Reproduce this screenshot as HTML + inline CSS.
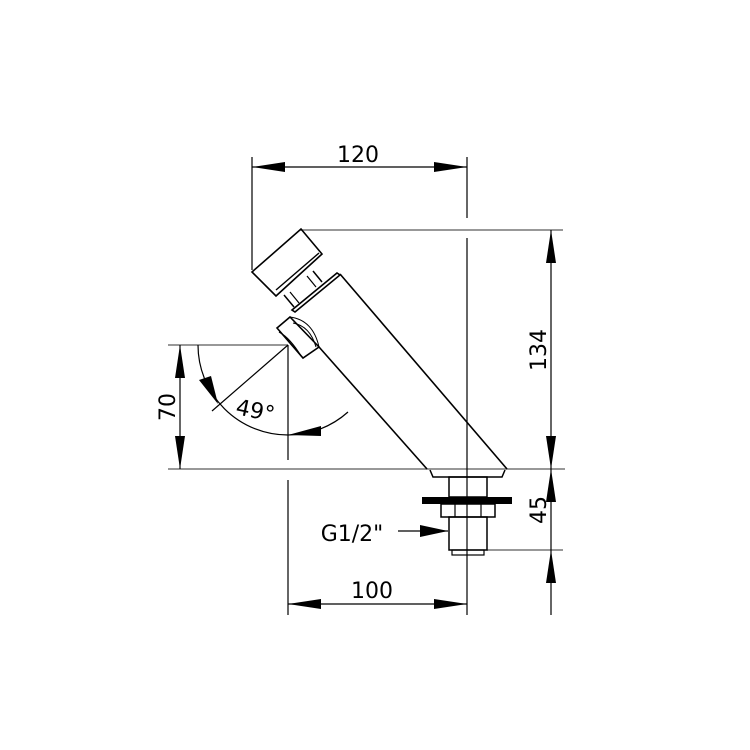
<!DOCTYPE html>
<html><head><meta charset="utf-8"><style>
html,body{margin:0;padding:0;background:#fff;}
svg{display:block;}
text{font-family:"DejaVu Sans","Liberation Sans",sans-serif;font-size:22px;fill:#000;}
</style></head><body>
<svg width="750" height="750" viewBox="0 0 750 750" xmlns="http://www.w3.org/2000/svg">
<g fill="none" stroke="#000" stroke-width="1.2">
<line x1="300" y1="230" x2="563" y2="230" stroke="#777" stroke-width="1.5"/>
<line x1="168" y1="345" x2="288" y2="345" stroke="#777" stroke-width="1.5"/>
<line x1="168" y1="469" x2="565" y2="469" stroke="#777" stroke-width="1.5"/>
<line x1="487" y1="550" x2="563" y2="550" stroke="#777" stroke-width="1.5"/>
<line x1="252" y1="157" x2="252" y2="270"/>
<line x1="467" y1="157" x2="467" y2="218"/>
<line x1="467" y1="238" x2="467" y2="615"/>
<line x1="252" y1="167" x2="467" y2="167"/>
<line x1="551" y1="230" x2="551" y2="469"/>
<line x1="551" y1="469" x2="551" y2="615"/>
<line x1="180" y1="345" x2="180" y2="469"/>
<line x1="288" y1="480" x2="288" y2="615"/>
<line x1="288" y1="604" x2="467" y2="604"/>
<line x1="288" y1="345" x2="288" y2="460"/>
<line x1="288" y1="345" x2="212" y2="411"/>
<path d="M198 345 A90 90 0 0 0 288 435"/>
<path d="M288 435 A90 90 0 0 0 348 412"/>
<line x1="398" y1="531" x2="448" y2="531"/>
<line x1="340" y1="274" x2="507" y2="469" stroke-width="1.6"/>
<line x1="319" y1="347" x2="427" y2="469" stroke-width="1.6"/>
<polygon points="292,310 337,273 340,275 295,312" stroke-width="1.6"/>
<line x1="284" y1="295" x2="294" y2="307" stroke-width="1.5"/>
<line x1="313" y1="271" x2="322" y2="282" stroke-width="1.5"/>
<line x1="290" y1="292" x2="299" y2="303" stroke-width="1.2"/>
<line x1="307" y1="276" x2="316" y2="287" stroke-width="1.2"/>
<polygon points="252,272 301,229 322,254 276,296" stroke-width="1.6"/>
<line x1="276" y1="290" x2="319" y2="253" stroke-width="1.4"/>
<polygon points="277,328 290,317 319,347 303,358" stroke-width="1.6"/>
<path d="M279 332 Q290 338 301 356" stroke-width="1.2"/>
<path d="M290 317 Q313 320 319 347" stroke-width="1"/>
<path d="M293 323 Q310 326 316 347" stroke-width="1"/>
<path d="M430 470 L433 477 L502 477 L505 470" stroke-width="1.5"/>
<rect x="449" y="477" width="38" height="20" stroke-width="1.5"/>
<path d="M441 504 h54 v13 h-54 z" stroke-width="1.5"/>
<line x1="455" y1="504" x2="455" y2="517"/>
<line x1="481" y1="504" x2="481" y2="517"/>
<rect x="449" y="517" width="38" height="33" stroke-width="1.5"/>
<rect x="452" y="550" width="32" height="5" stroke-width="1.2"/>
</g>
<rect x="422" y="497" width="90" height="7" fill="#000"/>
<g fill="#000">
<polygon points="252,167 285,162 285,172"/>
<polygon points="467,167 434,162 434,172"/>
<polygon points="551,230 546,263 556,263"/>
<polygon points="551,469 546,436 556,436"/>
<polygon points="551,550 546,583 556,583"/>
<polygon points="551,469 546,502 556,502"/>
<polygon points="180,345 175,378 185,378"/>
<polygon points="180,469 175,436 185,436"/>
<polygon points="288,604 321,599 321,609"/>
<polygon points="467,604 434,599 434,609"/>
<polygon points="448,531 420,525 420,537"/>
<polygon points="288,435 321,426 321,436"/>
<polygon points="218,404 199,380 211,376"/>
</g>
<text x="358" y="162" text-anchor="middle" font-size="23">120</text>
<text x="372" y="598" text-anchor="middle" font-size="23">100</text>
<text x="352" y="541" text-anchor="middle" font-size="23">G1/2"</text>
<text transform="translate(546,350) rotate(-90)" text-anchor="middle" font-size="23">134</text>
<text transform="translate(546,510) rotate(-90)" text-anchor="middle" font-size="23">45</text>
<text transform="translate(175,407) rotate(-90)" text-anchor="middle" font-size="23">70</text>
<text x="236" y="418" font-size="24" transform="rotate(12 255 410)">49°</text>
</svg>
</body></html>
